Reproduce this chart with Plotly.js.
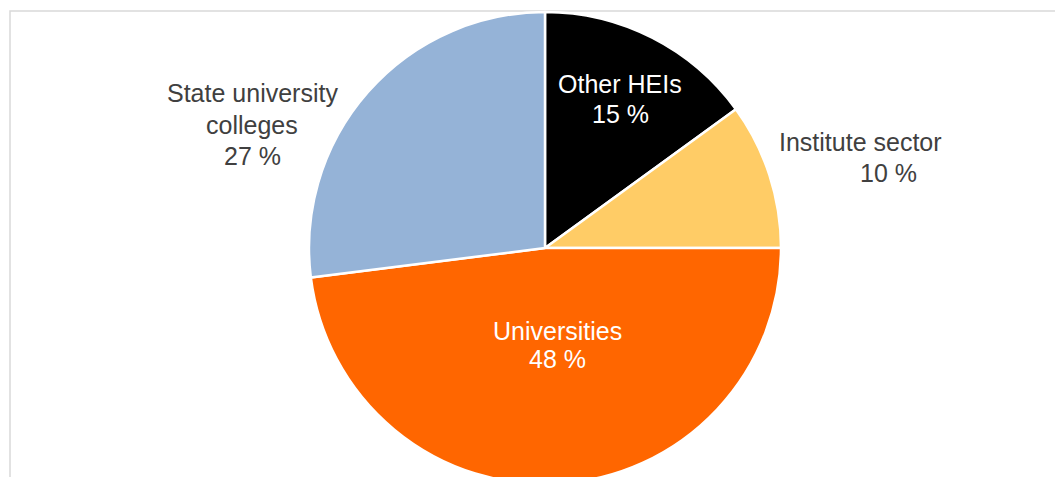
<!DOCTYPE html>
<html>
<head>
<meta charset="utf-8">
<script src="https://cdn.plot.ly/plotly-3.0.1.min.js"></script>
<style>
html, body { margin: 0; padding: 0; overflow: hidden; background: #fff; }
#chart { width: 1055px; height: 496px; }
</style>
</head>
<body>
<div id="chart"></div>
<script>
// Data
const categories = ["Other HEIs", "Institute sector", "Universities", "State university colleges"];
const values = [15, 10, 48, 27];
const labelLines = [["Other HEIs"], ["Institute sector"], ["Universities"], ["State university", "colleges"]];
const sliceColors = ["#000000", "#FFCC66", "#FF6600", "#95B3D7"];

// Label placement (pixel centres for each line, style only)
const W = 1055, H = 496;
const labelPos = [
  { x: [620, 620], y: [84, 114], color: "#ffffff" },
  { x: [860, 888], y: [142, 173], color: "#404040" },
  { x: [557, 557], y: [331, 359], color: "#ffffff" },
  { x: [252, 252, 252], y: [93, 125, 156], color: "#404040" }
];

const annotations = [];
categories.forEach((cat, i) => {
  const lines = labelLines[i].concat([values[i] + " %"]);
  lines.forEach((t, j) => {
    annotations.push({
      xref: "paper", yref: "paper",
      x: labelPos[i].x[j] / W, y: 1 - labelPos[i].y[j] / H,
      xanchor: "center", yanchor: "middle",
      text: t, showarrow: false,
      font: { family: "Liberation Sans, Arial, sans-serif", size: 25, color: labelPos[i].color }
    });
  });
});

const trace = {
  type: "pie",
  labels: categories,
  values: values,
  sort: false,
  direction: "clockwise",
  rotation: 0,
  textinfo: "none",
  hoverinfo: "label+percent",
  marker: { colors: sliceColors, line: { color: "#ffffff", width: 2.5 } },
  domain: { x: [(545 - 300) / W, (545 + 300) / W], y: [12 / H, 1 - 12 / H] },
  showlegend: false
};

const layout = {
  width: W, height: H,
  margin: { l: 0, r: 0, t: 0, b: 0 },
  paper_bgcolor: "#ffffff",
  showlegend: false,
  annotations: annotations,
  shapes: [{
    type: "rect", xref: "paper", yref: "paper",
    x0: 10 / W, x1: 1.05, y0: -0.1, y1: 1 - 11 / H,
    line: { color: "#d9d9d9", width: 1.5 }, fillcolor: "rgba(0,0,0,0)", layer: "below"
  }]
};

Plotly.newPlot("chart", [trace], layout, { displayModeBar: false, staticPlot: true });
</script>
</body>
</html>
